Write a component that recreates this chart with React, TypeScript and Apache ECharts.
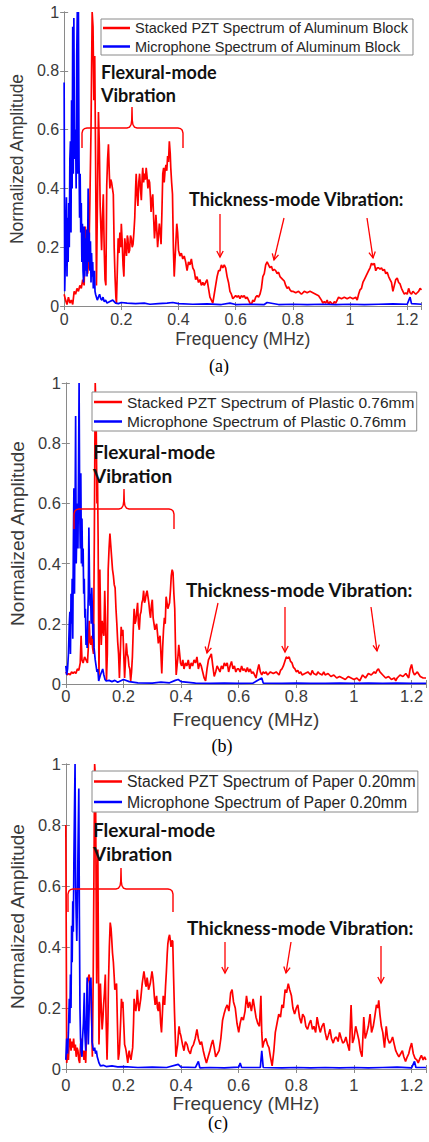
import React, { useEffect, useRef } from "react";
import * as echarts from "echarts";

type P = [number, number][];

// ---------------- data (frequency MHz, normalized amplitude) ----------------
const pztAluminum: P = [
  [0,0.04],[0.005,0.02],[0.01,0.005],[0.015,0.03],[0.02,0.01],[0.025,0.02],[0.03,0.005],[0.035,0.05],[0.04,0.04],[0.045,0.06],
  [0.05,0.05],[0.055,0.07],[0.06,0.06],[0.065,0.09],[0.07,0.07],[0.074,0.27],[0.078,0.2],[0.082,0.11],[0.086,0.15],[0.09,0.35],
  [0.094,0.6],[0.098,1.0],[0.101,0.95],[0.104,0.7],[0.107,0.85],[0.11,0.5],[0.113,0.07],[0.117,0.4],[0.12,0.66],[0.123,0.55],
  [0.126,0.34],[0.129,0.25],[0.131,0.19],[0.134,0.3],[0.137,0.38],[0.14,0.2],[0.143,0.09],[0.146,0.07],[0.149,0.41],[0.152,0.5],
  [0.155,0.55],[0.158,0.45],[0.16,0.4],[0.163,0.43],[0.166,0.42],[0.169,0.4],[0.172,0.38],[0.175,0.2],[0.178,0.1],[0.181,0.03],
  [0.183,0.01],[0.186,0.12],[0.189,0.23],[0.192,0.18],[0.195,0.25],[0.198,0.2],[0.2,0.28],[0.203,0.22],[0.206,0.14],[0.209,0.1],
  [0.212,0.23],[0.215,0.2],[0.218,0.17],[0.221,0.24],[0.223,0.23],[0.226,0.18],[0.229,0.19],[0.232,0.24],[0.235,0.23],[0.238,0.2],
  [0.241,0.21],[0.244,0.25],[0.247,0.3],[0.25,0.4],[0.252,0.45],[0.255,0.38],[0.258,0.34],[0.261,0.42],[0.264,0.45],[0.267,0.4],
  [0.27,0.36],[0.273,0.44],[0.275,0.47],[0.278,0.42],[0.281,0.45],[0.284,0.43],[0.287,0.47],[0.29,0.44],[0.293,0.4],[0.296,0.43],
  [0.299,0.42],[0.302,0.37],[0.304,0.32],[0.307,0.36],[0.31,0.38],[0.313,0.3],[0.316,0.23],[0.319,0.27],[0.321,0.31],[0.324,0.26],
  [0.327,0.2],[0.33,0.24],[0.333,0.28],[0.336,0.25],[0.339,0.21],[0.342,0.32],[0.345,0.45],[0.348,0.47],[0.35,0.42],[0.353,0.46],
  [0.356,0.48],[0.359,0.46],[0.362,0.51],[0.365,0.49],[0.368,0.56],[0.371,0.52],[0.373,0.47],[0.376,0.42],[0.379,0.38],[0.382,0.2],
  [0.385,0.1],[0.388,0.16],[0.391,0.22],[0.394,0.28],[0.397,0.25],[0.4,0.19],[0.405,0.17],[0.41,0.18],[0.415,0.16],[0.42,0.17],
  [0.425,0.15],[0.43,0.12],[0.435,0.15],[0.44,0.14],[0.445,0.16],[0.45,0.13],[0.455,0.12],[0.46,0.09],[0.465,0.1],[0.47,0.08],
  [0.475,0.09],[0.48,0.07],[0.485,0.08],[0.49,0.07],[0.495,0.08],[0.5,0.09],[0.505,0.06],[0.51,0.03],[0.515,0.02],[0.52,0.01],
  [0.525,0.04],[0.53,0.07],[0.535,0.1],[0.54,0.12],[0.545,0.12],[0.55,0.14],[0.555,0.13],[0.56,0.14],[0.565,0.13],[0.57,0.1],
  [0.575,0.08],[0.58,0.05],[0.585,0.04],[0.59,0.025],[0.595,0.03],[0.6,0.035],[0.605,0.03],[0.61,0.035],[0.615,0.025],[0.62,0.035],
  [0.625,0.03],[0.63,0.035],[0.635,0.025],[0.64,0.03],[0.645,0.02],[0.65,0.01],[0.655,0.005],[0.66,0.02],[0.665,0.015],[0.67,0.03],
  [0.675,0.035],[0.68,0.03],[0.685,0.04],[0.69,0.06],[0.695,0.1],[0.7,0.11],[0.705,0.14],[0.71,0.15],[0.715,0.14],[0.72,0.13],
  [0.725,0.135],[0.73,0.12],[0.735,0.125],[0.74,0.12],[0.745,0.11],[0.75,0.115],[0.755,0.1],[0.76,0.095],[0.765,0.09],[0.77,0.085],
  [0.775,0.07],[0.78,0.06],[0.785,0.065],[0.79,0.055],[0.795,0.05],[0.8,0.05],[0.81,0.045],[0.82,0.05],[0.83,0.04],[0.84,0.05],
  [0.85,0.045],[0.86,0.05],[0.87,0.045],[0.88,0.04],[0.89,0.035],[0.9,0.02],[0.905,0.01],[0.91,0.015],[0.915,0.01],[0.92,0.02],
  [0.925,0.005],[0.93,0.015],[0.935,0.01],[0.94,0.005],[0.945,0.015],[0.95,0.01],[0.96,0.03],[0.97,0.025],[0.98,0.03],[0.99,0.025],
  [1.0,0.03],[1.01,0.025],[1.02,0.03],[1.025,0.02],[1.03,0.04],[1.035,0.055],[1.04,0.06],[1.045,0.08],[1.05,0.09],[1.055,0.1],
  [1.06,0.11],[1.065,0.12],[1.07,0.13],[1.075,0.145],[1.08,0.14],[1.085,0.145],[1.09,0.12],[1.095,0.13],[1.1,0.13],[1.105,0.125],
  [1.11,0.13],[1.115,0.12],[1.12,0.125],[1.125,0.11],[1.13,0.115],[1.135,0.1],[1.14,0.09],[1.145,0.08],[1.15,0.05],[1.155,0.07],
  [1.16,0.09],[1.165,0.095],[1.17,0.08],[1.175,0.075],[1.18,0.06],[1.185,0.05],[1.19,0.04],[1.195,0.045],[1.2,0.04],[1.205,0.06],
  [1.21,0.045],[1.215,0.04],[1.22,0.05],[1.225,0.045],[1.23,0.04],[1.235,0.045],[1.24,0.05],[1.245,0.06],[1.25,0.055],
];

const micAluminum: P = [
  [0,0.76],[0.002,0.05],[0.005,0.2],[0.008,0.37],[0.01,0.1],[0.012,0.3],[0.014,0.15],[0.016,0.35],[0.018,0.2],[0.02,0.5],
  [0.022,0.56],[0.024,0.25],[0.026,0.7],[0.028,0.4],[0.03,0.95],[0.032,0.45],[0.034,0.98],[0.036,0.55],[0.038,0.5],[0.04,0.6],
  [0.042,0.4],[0.044,0.85],[0.046,1.0],[0.048,0.45],[0.05,1.0],[0.052,0.5],[0.054,0.3],[0.056,0.45],[0.058,0.25],[0.06,0.35],
  [0.062,0.15],[0.064,0.28],[0.066,0.12],[0.068,0.08],[0.07,0.27],[0.072,0.1],[0.074,0.23],[0.076,0.12],[0.078,0.26],[0.08,0.1],
  [0.082,0.18],[0.084,0.4],[0.086,0.15],[0.088,0.25],[0.09,0.12],[0.092,0.22],[0.094,0.08],[0.096,0.18],[0.098,0.1],[0.1,0.15],
  [0.102,0.06],[0.104,0.1],[0.106,0.12],[0.108,0.05],[0.11,0.04],[0.113,0.03],[0.116,0.02],[0.12,0.03],[0.124,0.04],[0.128,0.025],
  [0.132,0.02],[0.136,0.03],[0.14,0.015],[0.145,0.02],[0.15,0.01],[0.16,0.015],[0.17,0.02],[0.18,0.01],[0.19,0.008],[0.2,0.012],
  [0.22,0.01],[0.25,0.008],[0.28,0.01],[0.3,0.006],[0.33,0.008],[0.36,0.01],[0.38,0.012],[0.4,0.008],[0.45,0.006],[0.5,0.007],
  [0.55,0.005],[0.58,0.01],[0.6,0.005],[0.65,0.006],[0.7,0.005],[0.71,0.012],[0.75,0.005],[0.8,0.006],[0.85,0.005],[0.9,0.006],
  [0.95,0.005],[1.0,0.006],[1.05,0.005],[1.1,0.006],[1.15,0.007],[1.2,0.006],[1.21,0.03],[1.215,0.008],[1.25,0.006],
];

const pztPlastic: P = [
  [0,0.04],[0.005,0.03],[0.01,0.035],[0.015,0.03],[0.02,0.04],[0.025,0.035],[0.03,0.04],[0.035,0.035],[0.04,0.05],[0.045,0.045],
  [0.05,0.07],[0.053,0.16],[0.056,0.08],[0.06,0.07],[0.065,0.09],[0.07,0.08],[0.075,0.07],[0.078,0.12],[0.081,0.21],[0.084,0.14],
  [0.087,0.13],[0.09,0.16],[0.093,0.12],[0.096,0.1],[0.099,0.5],[0.102,1.0],[0.105,0.9],[0.108,0.6],[0.11,0.68],[0.112,0.49],
  [0.115,0.02],[0.118,0.38],[0.121,0.2],[0.123,0.13],[0.126,0.21],[0.129,0.18],[0.132,0.16],[0.135,0.31],[0.138,0.2],[0.141,0.01],
  [0.144,0.1],[0.147,0.38],[0.15,0.45],[0.153,0.5],[0.156,0.46],[0.159,0.42],[0.162,0.38],[0.165,0.36],[0.168,0.33],[0.171,0.32],
  [0.174,0.25],[0.177,0.2],[0.18,0.14],[0.183,0.1],[0.186,0.02],[0.189,0.1],[0.192,0.19],[0.195,0.16],[0.198,0.18],[0.201,0.1],
  [0.204,0.02],[0.207,0.08],[0.21,0.135],[0.213,0.1],[0.216,0.09],[0.219,0.06],[0.222,0.05],[0.225,0.01],[0.228,0.04],[0.231,0.09],
  [0.234,0.18],[0.237,0.25],[0.24,0.2],[0.243,0.21],[0.246,0.24],[0.249,0.27],[0.252,0.2],[0.255,0.18],[0.258,0.23],[0.261,0.24],
  [0.264,0.27],[0.267,0.28],[0.27,0.31],[0.273,0.27],[0.276,0.28],[0.279,0.3],[0.282,0.31],[0.285,0.29],[0.288,0.27],[0.291,0.24],
  [0.294,0.22],[0.297,0.26],[0.3,0.28],[0.303,0.22],[0.306,0.2],[0.309,0.18],[0.312,0.19],[0.315,0.2],[0.318,0.17],[0.321,0.135],
  [0.324,0.15],[0.327,0.16],[0.33,0.1],[0.333,0.035],[0.336,0.12],[0.339,0.18],[0.342,0.22],[0.345,0.2],[0.348,0.29],[0.351,0.27],
  [0.354,0.25],[0.357,0.26],[0.36,0.27],[0.363,0.31],[0.366,0.36],[0.369,0.38],[0.372,0.37],[0.375,0.3],[0.378,0.25],[0.381,0.1],
  [0.383,0.03],[0.386,0.06],[0.389,0.09],[0.392,0.13],[0.395,0.1],[0.398,0.07],[0.402,0.06],[0.406,0.08],[0.41,0.05],[0.415,0.07],
  [0.42,0.06],[0.425,0.08],[0.43,0.05],[0.435,0.07],[0.44,0.06],[0.445,0.08],[0.45,0.07],[0.455,0.09],[0.46,0.05],[0.465,0.07],
  [0.47,0.06],[0.475,0.04],[0.48,0.02],[0.485,0.01],[0.49,0.05],[0.495,0.08],[0.5,0.09],[0.505,0.1],[0.51,0.06],[0.515,0.025],
  [0.52,0.04],[0.525,0.06],[0.53,0.05],[0.535,0.04],[0.54,0.06],[0.545,0.05],[0.55,0.07],[0.555,0.06],[0.56,0.07],[0.565,0.04],
  [0.57,0.06],[0.575,0.075],[0.58,0.05],[0.585,0.06],[0.59,0.04],[0.595,0.05],[0.6,0.05],[0.605,0.04],[0.61,0.06],[0.615,0.045],
  [0.62,0.05],[0.625,0.04],[0.63,0.055],[0.635,0.04],[0.64,0.05],[0.645,0.035],[0.65,0.04],[0.655,0.03],[0.66,0.02],[0.665,0.045],
  [0.67,0.065],[0.675,0.04],[0.68,0.03],[0.685,0.04],[0.69,0.035],[0.695,0.04],[0.7,0.03],[0.71,0.04],[0.72,0.035],[0.73,0.04],
  [0.74,0.03],[0.745,0.045],[0.75,0.05],[0.755,0.06],[0.76,0.075],[0.765,0.09],[0.77,0.085],[0.775,0.09],[0.78,0.075],[0.785,0.07],
  [0.79,0.055],[0.795,0.05],[0.8,0.04],[0.805,0.045],[0.81,0.035],[0.815,0.04],[0.82,0.03],[0.83,0.035],[0.84,0.04],[0.85,0.03],
  [0.855,0.045],[0.86,0.035],[0.87,0.03],[0.875,0.04],[0.88,0.035],[0.89,0.03],[0.895,0.04],[0.9,0.03],[0.91,0.035],[0.92,0.025],
  [0.93,0.03],[0.94,0.02],[0.95,0.025],[0.96,0.02],[0.97,0.015],[0.98,0.025],[0.99,0.02],[1.0,0.015],[1.01,0.02],[1.02,0.01],
  [1.03,0.03],[1.04,0.02],[1.05,0.035],[1.06,0.03],[1.07,0.04],[1.075,0.035],[1.08,0.045],[1.085,0.05],[1.09,0.04],[1.1,0.03],
  [1.11,0.02],[1.12,0.025],[1.13,0.015],[1.14,0.02],[1.145,0.01],[1.15,0.02],[1.16,0.03],[1.17,0.025],[1.18,0.035],[1.19,0.02],
  [1.195,0.05],[1.2,0.065],[1.205,0.04],[1.21,0.03],[1.22,0.04],[1.23,0.025],[1.24,0.02],[1.25,0.02],
];

const micPlastic: P = [
  [0,0.06],[0.003,0.03],[0.006,0.05],[0.009,0.1],[0.012,0.2],[0.014,0.24],[0.016,0.1],[0.018,0.3],[0.02,0.2],[0.022,0.35],
  [0.024,0.15],[0.026,0.45],[0.028,0.65],[0.03,0.3],[0.032,0.55],[0.034,0.89],[0.036,0.4],[0.038,0.5],[0.04,0.6],[0.042,0.45],
  [0.044,0.7],[0.046,1.0],[0.048,0.6],[0.05,0.45],[0.052,0.7],[0.054,0.4],[0.056,0.55],[0.058,0.39],[0.06,0.45],[0.062,0.3],
  [0.064,0.35],[0.066,0.22],[0.068,0.25],[0.07,0.13],[0.072,0.18],[0.074,0.12],[0.076,0.22],[0.078,0.3],[0.08,0.52],[0.082,0.35],
  [0.084,0.26],[0.086,0.3],[0.088,0.2],[0.09,0.32],[0.092,0.25],[0.094,0.15],[0.096,0.2],[0.098,0.12],[0.1,0.1],[0.102,0.08],
  [0.105,0.06],[0.108,0.04],[0.111,0.05],[0.114,0.01],[0.117,0.02],[0.12,0.03],[0.124,0.04],[0.128,0.05],[0.132,0.03],[0.136,0.015],
  [0.14,0.01],[0.15,0.012],[0.16,0.008],[0.17,0.012],[0.18,0.006],[0.2,0.015],[0.22,0.008],[0.25,0.004],[0.3,0.003],[0.33,0.006],
  [0.36,0.004],[0.38,0.012],[0.39,0.015],[0.4,0.008],[0.45,0.003],[0.5,0.002],[0.55,0.003],[0.6,0.002],[0.65,0.003],[0.68,0.02],
  [0.685,0.003],[0.75,0.002],[0.8,0.003],[0.85,0.002],[0.9,0.002],[0.95,0.003],[1.0,0.002],[1.05,0.003],[1.1,0.002],[1.15,0.003],
  [1.2,0.002],[1.25,0.002],
];

const pztPaper: P = [
  [0,0.8],[0.003,0.02],[0.006,0.05],[0.009,0.03],[0.012,0.09],[0.015,0.1],[0.018,0.06],[0.021,0.09],[0.024,0.07],[0.027,0.1],
  [0.03,0.06],[0.033,0.08],[0.036,0.04],[0.039,0.07],[0.042,0.06],[0.045,0.03],[0.048,0.02],[0.051,0.08],[0.054,0.1],[0.057,0.05],
  [0.06,0.06],[0.063,0.03],[0.066,0.06],[0.069,0.02],[0.072,0.12],[0.075,0.28],[0.078,0.3],[0.081,0.31],[0.084,0.27],[0.087,0.26],
  [0.09,0.15],[0.092,0.04],[0.095,0.3],[0.098,0.7],[0.1,1.0],[0.103,0.95],[0.105,0.6],[0.107,0.28],[0.109,0.5],[0.111,0.72],
  [0.113,0.4],[0.115,0.08],[0.118,0.2],[0.12,0.28],[0.123,0.2],[0.126,0.13],[0.129,0.17],[0.131,0.21],[0.134,0.25],[0.137,0.31],
  [0.14,0.15],[0.143,0.03],[0.146,0.15],[0.148,0.28],[0.151,0.4],[0.154,0.48],[0.157,0.46],[0.159,0.43],[0.162,0.38],[0.165,0.35],
  [0.168,0.3],[0.17,0.26],[0.173,0.27],[0.176,0.28],[0.179,0.15],[0.182,0.03],[0.185,0.05],[0.187,0.08],[0.19,0.15],[0.193,0.23],
  [0.196,0.2],[0.198,0.22],[0.201,0.15],[0.204,0.08],[0.207,0.07],[0.209,0.06],[0.212,0.04],[0.215,0.02],[0.218,0.05],[0.22,0.06],
  [0.223,0.04],[0.226,0.03],[0.229,0.05],[0.232,0.07],[0.235,0.15],[0.237,0.23],[0.24,0.2],[0.243,0.19],[0.246,0.22],[0.248,0.26],
  [0.251,0.22],[0.254,0.19],[0.257,0.21],[0.26,0.23],[0.263,0.26],[0.265,0.28],[0.268,0.3],[0.271,0.32],[0.274,0.3],[0.276,0.28],
  [0.279,0.27],[0.282,0.3],[0.285,0.28],[0.287,0.26],[0.29,0.27],[0.293,0.28],[0.296,0.3],[0.299,0.32],[0.302,0.3],[0.304,0.28],
  [0.307,0.24],[0.31,0.21],[0.313,0.23],[0.315,0.24],[0.318,0.2],[0.321,0.19],[0.324,0.22],[0.326,0.21],[0.329,0.15],[0.332,0.12],
  [0.335,0.18],[0.338,0.24],[0.341,0.22],[0.343,0.21],[0.346,0.27],[0.349,0.32],[0.352,0.38],[0.354,0.41],[0.357,0.43],[0.36,0.44],
  [0.363,0.42],[0.365,0.4],[0.368,0.42],[0.371,0.42],[0.374,0.3],[0.377,0.19],[0.38,0.1],[0.382,0.04],[0.385,0.06],[0.388,0.08],
  [0.391,0.12],[0.393,0.14],[0.396,0.12],[0.399,0.11],[0.405,0.08],[0.41,0.06],[0.415,0.09],[0.421,0.08],[0.426,0.06],[0.432,0.05],
  [0.437,0.07],[0.443,0.08],[0.449,0.1],[0.455,0.13],[0.46,0.1],[0.466,0.08],[0.471,0.09],[0.477,0.06],[0.482,0.04],[0.488,0.02],
  [0.494,0.04],[0.5,0.06],[0.505,0.08],[0.51,0.095],[0.515,0.07],[0.52,0.04],[0.526,0.05],[0.532,0.06],[0.538,0.1],[0.544,0.16],
  [0.549,0.18],[0.555,0.2],[0.56,0.21],[0.566,0.19],[0.572,0.25],[0.577,0.26],[0.582,0.22],[0.588,0.2],[0.594,0.15],[0.6,0.12],
  [0.605,0.15],[0.61,0.17],[0.616,0.16],[0.622,0.19],[0.627,0.24],[0.633,0.2],[0.638,0.22],[0.644,0.19],[0.65,0.23],[0.655,0.2],
  [0.66,0.17],[0.666,0.15],[0.672,0.14],[0.677,0.24],[0.68,0.12],[0.683,0.07],[0.688,0.09],[0.694,0.1],[0.7,0.08],[0.705,0.07],
  [0.71,0.04],[0.716,0.01],[0.722,0.06],[0.727,0.12],[0.733,0.15],[0.739,0.18],[0.745,0.17],[0.75,0.21],[0.755,0.2],[0.761,0.26],
  [0.766,0.25],[0.772,0.28],[0.777,0.26],[0.783,0.24],[0.788,0.2],[0.794,0.18],[0.8,0.2],[0.805,0.21],[0.811,0.17],[0.817,0.15],
  [0.822,0.18],[0.828,0.17],[0.833,0.14],[0.839,0.13],[0.845,0.15],[0.85,0.16],[0.856,0.13],[0.861,0.14],[0.867,0.12],[0.872,0.17],
  [0.878,0.14],[0.883,0.12],[0.889,0.14],[0.895,0.15],[0.9,0.12],[0.906,0.095],[0.911,0.11],[0.917,0.13],[0.922,0.1],[0.928,0.085],
  [0.933,0.1],[0.939,0.105],[0.945,0.09],[0.95,0.12],[0.956,0.1],[0.961,0.085],[0.967,0.09],[0.972,0.105],[0.978,0.08],[0.984,0.06],
  [0.99,0.21],[0.995,0.085],[1.0,0.1],[1.006,0.14],[1.011,0.12],[1.017,0.095],[1.022,0.06],[1.028,0.04],[1.034,0.17],[1.039,0.1],
  [1.045,0.12],[1.05,0.14],[1.056,0.18],[1.061,0.12],[1.067,0.14],[1.072,0.17],[1.078,0.21],[1.083,0.2],[1.086,0.225],[1.09,0.18],
  [1.095,0.14],[1.1,0.12],[1.106,0.07],[1.112,0.14],[1.117,0.1],[1.123,0.085],[1.128,0.09],[1.134,0.105],[1.14,0.08],[1.145,0.06],
  [1.15,0.05],[1.156,0.04],[1.162,0.05],[1.168,0.06],[1.173,0.04],[1.179,0.025],[1.185,0.04],[1.19,0.05],[1.195,0.07],[1.2,0.085],
  [1.206,0.05],[1.212,0.035],[1.218,0.03],[1.223,0.02],[1.229,0.035],[1.234,0.045],[1.24,0.03],[1.245,0.04],[1.25,0.03],
];

const micPaper: P = [
  [0,0.03],[0.003,0.1],[0.006,0.05],[0.009,0.12],[0.012,0.23],[0.014,0.15],[0.016,0.31],[0.018,0.2],[0.02,0.47],[0.022,0.35],
  [0.024,0.55],[0.026,0.45],[0.028,0.69],[0.03,0.85],[0.032,1.0],[0.034,0.6],[0.036,0.5],[0.038,0.42],[0.04,0.55],[0.042,0.7],
  [0.045,0.92],[0.047,0.5],[0.049,0.2],[0.051,0.1],[0.053,0.06],[0.056,0.04],[0.058,0.1],[0.061,0.15],[0.064,0.25],[0.066,0.12],
  [0.069,0.06],[0.072,0.18],[0.074,0.3],[0.076,0.15],[0.078,0.08],[0.081,0.2],[0.083,0.29],[0.085,0.24],[0.087,0.3],[0.089,0.2],
  [0.091,0.09],[0.094,0.07],[0.097,0.06],[0.1,0.07],[0.103,0.05],[0.106,0.06],[0.109,0.04],[0.112,0.03],[0.115,0.02],[0.12,0.01],
  [0.13,0.012],[0.14,0.008],[0.16,0.01],[0.18,0.007],[0.2,0.008],[0.25,0.005],[0.3,0.006],[0.35,0.005],[0.39,0.015],[0.4,0.006],
  [0.45,0.005],[0.46,0.025],[0.465,0.004],[0.5,0.005],[0.55,0.004],[0.6,0.006],[0.605,0.02],[0.61,0.005],[0.675,0.005],[0.68,0.06],
  [0.685,0.005],[0.75,0.004],[0.8,0.005],[0.85,0.004],[0.9,0.005],[0.95,0.004],[1.0,0.005],[1.05,0.004],[1.1,0.005],[1.15,0.006],
  [1.2,0.004],[1.21,0.025],[1.215,0.005],[1.25,0.005],
];

const pztNames = [
  "Stacked PZT Spectrum of Aluminum Block",
  "Stacked PZT Spectrum of Plastic 0.76mm",
  "Stacked PZT Spectrum of Paper 0.20mm",
];
const micNames = [
  "Microphone Spectrum of Aluminum Block",
  "Microphone Spectrum of Plastic 0.76mm",
  "Microphone Spectrum of Paper 0.20mm",
];
const captions = ["(a)", "(b)", "(c)"];
const xTitle = "Frequency (MHz)";
const yTitle = "Normalized Amplitude";
const flexText = ["Flexural-mode", "Vibration"];
const thickText = "Thickness-mode Vibration:";

// ---------------- layout (pixels) ----------------
const panels = [
  {
    grid: { left: 59, top: 12, width: 362.5, height: 294 },
    tickFont: 16, nameFont: 17.5, xLabelMargin: 5, xNameGap: 24, yNameGap: 24,
    legend: { left: 101, top: 19, font: 14.5, iconW: 27, gap: 3.5, pad: [1.5, 4, 1, 2] },
    caption: { x: 219, y: 366 },
    flex: { x: 101, y1: 72, y2: 95, font: 18 },
    thick: { x: 189, y: 199, font: 18 },
    brace: { xl: 82, xr: 183, xm: 132, y: 128, yEnd: 148, yTip: 107 },
    arrows: [[220, 214, 220, 257], [284, 218, 274, 260], [367, 218, 373, 258]],
  },
  {
    grid: { left: 54, top: 383, width: 374, height: 301 },
    tickFont: 16.5, nameFont: 19, xLabelMargin: 3, xNameGap: 26, yNameGap: 28,
    legend: { left: 92, top: 392, font: 15.5, iconW: 28, gap: 3.5, pad: [2, 2, 1.5, 2] },
    caption: { x: 222, y: 746 },
    flex: { x: 93, y1: 451, y2: 475, font: 19 },
    thick: { x: 186, y: 589, font: 19 },
    brace: { xl: 74, xr: 174, xm: 124, y: 509, yEnd: 529, yTip: 489 },
    arrows: [[218, 603, 207, 653], [285, 607, 285, 652], [371, 607, 377, 651]],
  },
  {
    grid: { left: 54, top: 764, width: 374, height: 305 },
    tickFont: 16.5, nameFont: 19, xLabelMargin: 7, xNameGap: 24, yNameGap: 28,
    legend: { left: 92, top: 771, font: 15.8, iconW: 28, gap: 4.5, pad: [2.5, 2, 2, 2] },
    caption: { x: 218, y: 1123 },
    flex: { x: 93, y1: 829, y2: 853, font: 19 },
    thick: { x: 187, y: 927, font: 19 },
    brace: { xl: 68, xr: 173, xm: 121, y: 889, yEnd: 912, yTip: 868 },
    arrows: [[225, 942, 225, 973], [291, 942, 286, 973], [381, 946, 381, 983]],
  },
];

const RED = "#ff0000";
const BLUE = "#0000ff";
const FRAME = "#8a8a8a";
const TXT = "#3a3a3a";
const SANS = "'Liberation Sans', Arial, sans-serif";
const BOLD = "Lato, 'Open Sans', sans-serif";

function bracePoints(b: { xl: number; xr: number; xm: number; y: number; yEnd: number; yTip: number }) {
  const { xl, xr, xm, y, yEnd, yTip } = b;
  return [
    [xl, yEnd], [xl, y + 5], [xl + 0.8, y + 2.2], [xl + 2.5, y + 0.6], [xl + 5, y],
    [xm - 5, y], [xm - 2.5, y - 0.8], [xm - 0.9, y - 3.5], [xm - 0.3, y - 8], [xm, yTip],
    [xm + 0.3, y - 8], [xm + 0.9, y - 3.5], [xm + 2.5, y - 0.8], [xm + 5, y],
    [xr - 5, y], [xr - 2.5, y + 0.6], [xr - 0.8, y + 2.2], [xr, y + 5], [xr, yEnd],
  ];
}

function arrowEls(a: number[]) {
  const [x1, y1, x2, y2] = a;
  const dx = x2 - x1, dy = y2 - y1;
  const len = Math.hypot(dx, dy);
  const ux = dx / len, uy = dy / len;
  const nx = -uy, ny = ux;
  const hl = 6, hw = 3.2;
  return [
    { type: "line", shape: { x1, y1, x2, y2 }, style: { stroke: RED, lineWidth: 1.3 } },
    {
      type: "polyline",
      shape: { points: [[x2 - ux * hl + nx * hw, y2 - uy * hl + ny * hw], [x2, y2], [x2 - ux * hl - nx * hw, y2 - uy * hl - ny * hw]] },
      style: { stroke: RED, lineWidth: 1.3, fill: null },
    },
  ];
}

function xLabel(v: number) {
  const k = Math.round(v / 0.2);
  if (Math.abs(v - k * 0.2) > 1e-6) return "";
  return String(Math.round(v * 10) / 10);
}

export default function App() {
  const ref = useRef<HTMLDivElement>(null);
  useEffect(() => {
    if (!ref.current) return;
    const chart = echarts.init(ref.current, undefined, { renderer: "svg" });
    const pzt = [pztAluminum, pztPlastic, pztPaper];
    const mic = [micAluminum, micPlastic, micPaper];

    const grid: any[] = [];
    const xAxis: any[] = [];
    const yAxis: any[] = [];
    const series: any[] = [];
    const legend: any[] = [];
    const graphic: any[] = [];

    panels.forEach((p, i) => {
      grid.push({ ...p.grid, containLabel: false, show: false });
      const line = { show: true, lineStyle: { color: FRAME, width: 1 } };
      const tick = { show: true, inside: true, length: 4, lineStyle: { color: FRAME, width: 1 } };
      const label = { fontSize: p.tickFont, color: TXT, fontFamily: SANS };
      xAxis.push({
        gridIndex: i, type: "value", position: "bottom", min: 0, max: 1.25, interval: 0.2,
        name: xTitle, nameLocation: "middle", nameGap: p.xNameGap,
        nameTextStyle: { fontSize: p.nameFont, color: TXT, fontFamily: SANS },
        axisLine: line, axisTick: tick, splitLine: { show: false },
        axisLabel: { ...label, margin: p.xLabelMargin, formatter: xLabel },
      });
      xAxis.push({
        gridIndex: i, type: "value", position: "top", min: 0, max: 1.25, interval: 0.2,
        axisLine: line, axisTick: tick, splitLine: { show: false }, axisLabel: { show: false },
      });
      yAxis.push({
        gridIndex: i, type: "value", position: "left", min: 0, max: 1, interval: 0.2,
        name: yTitle, nameLocation: "middle", nameGap: p.yNameGap,
        nameTextStyle: { fontSize: p.nameFont, color: TXT, fontFamily: SANS },
        axisLine: line, axisTick: tick, splitLine: { show: false },
        axisLabel: { ...label, margin: 5 },
      });
      yAxis.push({
        gridIndex: i, type: "value", position: "right", min: 0, max: 1, interval: 0.2,
        axisLine: line, axisTick: tick, splitLine: { show: false }, axisLabel: { show: false },
      });
      series.push({
        name: pztNames[i], type: "line", xAxisIndex: 2 * i, yAxisIndex: 2 * i,
        data: pzt[i], showSymbol: false, symbol: "none", lineStyle: { color: RED, width: 1.7 },
        itemStyle: { color: RED }, z: 2,
      });
      series.push({
        name: micNames[i], type: "line", xAxisIndex: 2 * i, yAxisIndex: 2 * i,
        data: mic[i], showSymbol: false, symbol: "none", lineStyle: { color: BLUE, width: 1.7 },
        itemStyle: { color: BLUE }, z: 3,
      });
      legend.push({
        data: [pztNames[i], micNames[i]], orient: "vertical",
        left: p.legend.left, top: p.legend.top,
        itemWidth: p.legend.iconW, itemHeight: 2.5, icon: "rect", itemGap: p.legend.gap,
        padding: p.legend.pad, borderColor: FRAME, borderWidth: 1, backgroundColor: "#ffffff",
        textStyle: { fontSize: p.legend.font, color: "#262626", fontFamily: SANS },
        selectedMode: false, z: 10,
      });

      // annotations
      graphic.push({
        type: "text", x: p.flex.x, y: p.flex.y1, z: 20,
        style: { text: flexText[0], fill: "#111", fontSize: p.flex.font, fontWeight: "bold", fontFamily: BOLD, align: "left", verticalAlign: "middle" },
      });
      graphic.push({
        type: "text", x: p.flex.x, y: p.flex.y2, z: 20,
        style: { text: flexText[1], fill: "#111", fontSize: p.flex.font, fontWeight: "bold", fontFamily: BOLD, align: "left", verticalAlign: "middle" },
      });
      graphic.push({
        type: "text", x: p.thick.x, y: p.thick.y, z: 20,
        style: { text: thickText, fill: "#111", fontSize: p.thick.font, fontWeight: "bold", fontFamily: BOLD, align: "left", verticalAlign: "middle" },
      });
      graphic.push({
        type: "polyline", z: 20, shape: { points: bracePoints(p.brace) },
        style: { stroke: RED, lineWidth: 1.4, fill: null },
      });
      p.arrows.forEach((a) => arrowEls(a).forEach((e) => graphic.push({ ...e, z: 20 })));
      graphic.push({
        type: "text", x: p.caption.x, y: p.caption.y, z: 20,
        style: { text: captions[i], fill: "#000", fontSize: 18, fontFamily: "'Liberation Serif', 'Times New Roman', serif", align: "center", verticalAlign: "middle" },
      });
    });

    chart.setOption({
      animation: false,
      backgroundColor: "#ffffff",
      grid, xAxis, yAxis, series, legend, graphic,
    });
    return () => chart.dispose();
  }, []);
  return <div ref={ref} style={{ position: "absolute", left: 0, top: 0, width: 429, height: 1142 }} />;
}
